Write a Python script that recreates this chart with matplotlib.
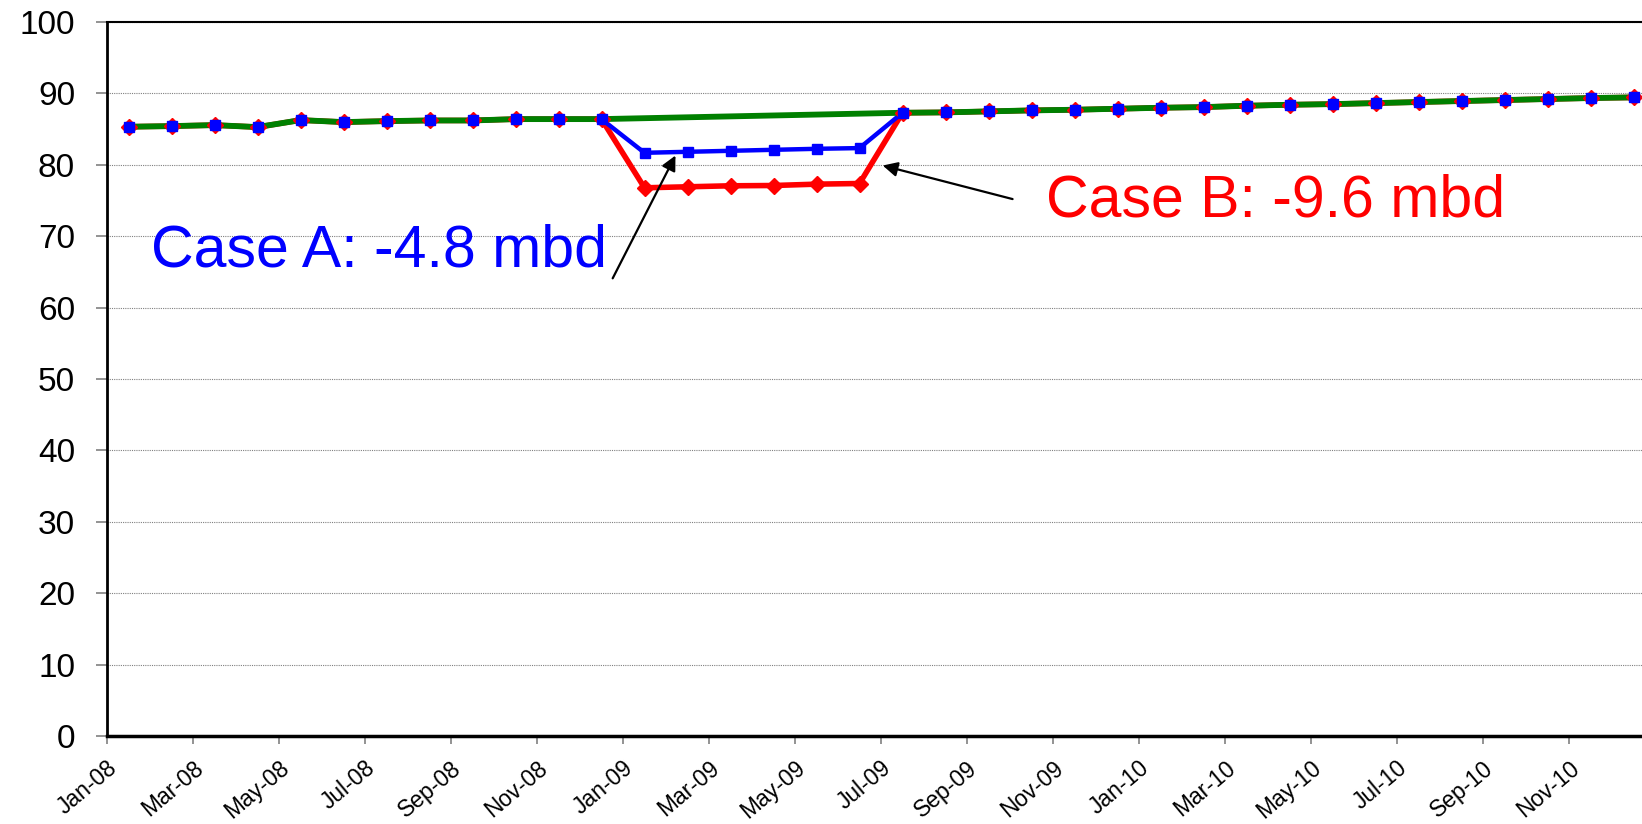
import numpy as np
import matplotlib.pyplot as plt

plt.rcParams['font.family'] = ['Liberation Sans', 'DejaVu Sans']

# monthly demand, Jan-08 .. Dec-10 (mbd)
base_2008 = [85.33, 85.42, 85.56, 85.28, 86.26, 85.98, 86.12, 86.21, 86.21, 86.40, 86.40, 86.40]
base_after = [87.29, 87.34, 87.48, 87.62, 87.71, 87.85, 87.99, 88.08, 88.27, 88.41,
              88.50, 88.64, 88.79, 88.93, 89.07, 89.21, 89.35, 89.44]
# Jan-09 .. Jun-09 cut cases
case_a_cut = [81.68, 81.82, 81.96, 82.10, 82.24, 82.34]
case_b_cut = [76.78, 76.92, 77.06, 77.10, 77.29, 77.38]

tick_labels = ['Jan-08', 'Mar-08', 'May-08', 'Jul-08', 'Sep-08', 'Nov-08',
               'Jan-09', 'Mar-09', 'May-09', 'Jul-09', 'Sep-09', 'Nov-09',
               'Jan-10', 'Mar-10', 'May-10', 'Jul-10', 'Sep-10', 'Nov-10']

base = np.array(base_2008 + [np.nan] * 6 + base_after)
case_a = np.array(base_2008 + case_a_cut + base_after)
case_b = np.array(base_2008 + case_b_cut + base_after)
x = np.arange(len(case_a)) + 0.5  # points sit mid-month
ok = ~np.isnan(base)

fig = plt.figure(figsize=(16.42, 8.24), dpi=100)
ax = fig.add_axes([107 / 1642, 1 - 736 / 824, 1 - 107 / 1642, (736 - 22) / 824])

ax.plot(x, case_b, color='#FF0000', lw=4.0, zorder=2)
ax.plot(x, case_a, color='#0000FF', lw=3.2, zorder=3)
ax.plot(x[ok], base[ok], color='#008000', lw=4.2, zorder=4)
ax.plot(x, case_b, ls='none', marker='D', ms=8, color='#FF0000', zorder=5)
ax.plot(x, case_a, ls='none', marker='s', ms=6.5, color='#0000FF', zorder=6)

ax.set_xlim(0, (1642 - 107) / 43)
ax.set_ylim(0, 100)
ax.set_yticks(np.arange(0, 101, 10))
ax.set_xticks(np.arange(0, 36, 2))
ax.set_xticklabels(tick_labels, rotation=40, ha='right', va='top',
                   rotation_mode='anchor', fontsize=16.5)
ax.tick_params(axis='y', labelsize=24, direction='out', length=8, width=1.2, color='#808080', pad=15)
ax.tick_params(axis='x', direction='out', length=5.8, width=1.2, color='#808080', pad=9)
ax.yaxis.grid(True, linestyle=(0, (1, 1)), color='#808080', lw=0.8)
ax.set_axisbelow(True)

ax.spines['right'].set_visible(False)
ax.spines['left'].set_linewidth(2)
ax.spines['bottom'].set_linewidth(2.5)
ax.spines['top'].set_linewidth(1.5)

ax.text(1.02, 65.7, 'Case A: -4.8 mbd', color='#0000FF', fontsize=42.5, va='baseline')
ax.annotate('', xy=(13.22, 81.3), xytext=(11.76, 64.1),
            arrowprops=dict(arrowstyle='-|>', color='black', lw=1.6, mutation_scale=22, shrinkA=0, shrinkB=0))
ax.text(21.84, 72.7, 'Case B: -9.6 mbd', color='#FF0000', fontsize=42.5, va='baseline')
ax.annotate('', xy=(18.04, 79.9), xytext=(21.06, 75.2),
            arrowprops=dict(arrowstyle='-|>', color='black', lw=1.6, mutation_scale=22, shrinkA=0, shrinkB=0))

fig.savefig('out.png', dpi=100)
